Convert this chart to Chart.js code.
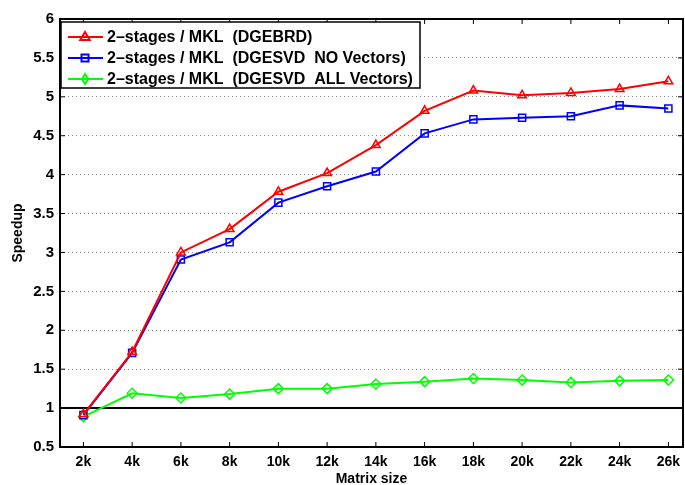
<!DOCTYPE html>
<html>
<head>
<meta charset="utf-8">
<script src="https://cdn.jsdelivr.net/npm/chart.js@4"></script>
<style>
  html, body { margin: 0; padding: 0; background: #fff; }
  #wrap { width: 685px; height: 485px; }
</style>
</head>
<body>
<div id="wrap"><canvas id="myChart" width="685" height="485"></canvas></div>
<script>
// matrix sizes in thousands
const sizes = [2, 4, 6, 8, 10, 12, 14, 16, 18, 20, 22, 24, 26];
const gebrd = [0.92, 1.72, 3.00, 3.30, 3.78, 4.02, 4.38, 4.82, 5.08, 5.02, 5.05, 5.10, 5.20];
const noVectors = [0.91, 1.71, 2.91, 3.13, 3.64, 3.85, 4.04, 4.53, 4.71, 4.73, 4.75, 4.89, 4.85];
const allVectors = [0.89, 1.19, 1.13, 1.18, 1.25, 1.25, 1.31, 1.34, 1.38, 1.36, 1.33, 1.35, 1.36];
const yTicks = [0.5, 1, 1.5, 2, 2.5, 3, 3.5, 4, 4.5, 5, 5.5, 6];
const legendLabels = [
  "2\u2013stages / MKL  (DGEBRD)",
  "2\u2013stages / MKL  (DGESVD  NO Vectors)",
  "2\u2013stages / MKL  (DGESVD  ALL Vectors)",
];
const colors = ["#ff0000", "#0000ff", "#00ff00"];
const markers = ["triangle", "rect", "rectRot"];

const FONT = "Liberation Sans, Arial, sans-serif";

function pts(vals) {
  return vals.map((v, i) => ({ x: sizes[i], y: v }));
}

function drawMarker(ctx, style, x, y, r) {
  ctx.beginPath();
  if (style === "triangle") {
    ctx.moveTo(x, y - r);
    ctx.lineTo(x + r * 0.95, y + r * 0.6);
    ctx.lineTo(x - r * 0.95, y + r * 0.6);
    ctx.closePath();
  } else if (style === "rect") {
    ctx.rect(x - r * 0.7, y - r * 0.7, r * 1.4, r * 1.4);
  } else {
    ctx.moveTo(x, y - r);
    ctx.lineTo(x + r * 0.6, y);
    ctx.lineTo(x, y + r);
    ctx.lineTo(x - r * 0.6, y);
    ctx.closePath();
  }
  ctx.stroke();
}

// matlab-ish frame, reference line at 1, inside ticks, legend box
const decor = {
  id: "decor",
  beforeDatasetsDraw(chart) {
    const ctx = chart.ctx;
    const a = chart.chartArea;
    const ys = chart.scales.y;
    const xs = chart.scales.x;
    ctx.save();
    // line at speedup 1
    ctx.strokeStyle = "#000";
    ctx.lineWidth = 2;
    const y1 = ys.getPixelForValue(1);
    ctx.beginPath();
    ctx.moveTo(a.left, y1);
    ctx.lineTo(a.right, y1);
    ctx.stroke();
    // inside ticks
    ctx.lineWidth = 1;
    ctx.beginPath();
    sizes.forEach((s) => {
      const px = xs.getPixelForValue(s);
      ctx.moveTo(px, a.bottom);
      ctx.lineTo(px, a.bottom - 5);
      ctx.moveTo(px, a.top);
      ctx.lineTo(px, a.top + 5);
    });
    yTicks.forEach((t) => {
      const py = ys.getPixelForValue(t);
      ctx.moveTo(a.left, py);
      ctx.lineTo(a.left + 5, py);
      ctx.moveTo(a.right, py);
      ctx.lineTo(a.right - 5, py);
    });
    ctx.stroke();
    ctx.restore();
  },
  afterDraw(chart) {
    const ctx = chart.ctx;
    const a = chart.chartArea;
    ctx.save();
    // frame
    ctx.strokeStyle = "#000";
    ctx.lineWidth = 2;
    ctx.strokeRect(a.left, a.top, a.right - a.left, a.bottom - a.top);
    // legend
    const bx = a.left + 1, by = a.top + 3, bw = 359, bh = 66;
    ctx.fillStyle = "#fff";
    ctx.fillRect(bx, by, bw, bh);
    ctx.lineWidth = 1.5;
    ctx.strokeRect(bx, by, bw, bh);
    ctx.font = "bold 16px " + FONT;
    ctx.textBaseline = "middle";
    legendLabels.forEach((lab, i) => {
      const ry = by + 15 + i * 21;
      ctx.strokeStyle = colors[i];
      ctx.lineWidth = 2;
      ctx.beginPath();
      ctx.moveTo(bx + 7, ry);
      ctx.lineTo(bx + 42, ry);
      ctx.stroke();
      drawMarker(ctx, markers[i], bx + 24, ry, 5);
      ctx.fillStyle = "#000";
      ctx.fillText(lab, bx + 46, ry + 1);
    });
    ctx.restore();
  },
};

const ctx1 = document.getElementById("myChart");

const chart1 = new Chart(ctx1, {
  type: "line",
  data: {
    datasets: [
      { label: legendLabels[0], data: pts(gebrd), borderColor: colors[0], pointStyle: markers[0] },
      { label: legendLabels[1], data: pts(noVectors), borderColor: colors[1], pointStyle: markers[1] },
      { label: legendLabels[2], data: pts(allVectors), borderColor: colors[2], pointStyle: markers[2] },
    ].map((d) => Object.assign(d, {
      borderWidth: 2,
      pointRadius: 5,
      pointBorderWidth: 1.5,
      pointBackgroundColor: "rgba(0,0,0,0)",
      pointBorderColor: d.borderColor,
      tension: 0,
    })),
  },
  options: {
    responsive: false,
    animation: false,
    layout: { autoPadding: false, padding: { top: 19, right: 2, left: 10, bottom: 0 } },
    plugins: {
      legend: { display: false },
      tooltip: { enabled: false },
    },
    scales: {
      x: {
        type: "linear",
        min: 1.04,
        max: 26.6,
        afterBuildTicks(scale) {
          scale.ticks = sizes.map((v) => ({ value: v }));
        },
        afterFit(scale) {
          scale.height = 38;
          scale.paddingRight = 0;
        },
        grid: { display: false, drawTicks: false },
        border: { display: false },
        ticks: {
          color: "#000",
          padding: 7,
          maxRotation: 0,
          autoSkip: false,
          font: { family: FONT, size: 14, weight: "bold" },
          callback: (v) => v + "k",
        },
        title: {
          display: true,
          text: "Matrix size",
          color: "#000",
          padding: { top: 0, bottom: -3 },
          font: { family: FONT, size: 14, weight: "bold" },
        },
      },
      y: {
        min: 0.5,
        max: 6,
        afterBuildTicks(scale) {
          scale.ticks = yTicks.map((v) => ({ value: v }));
        },
        afterFit(scale) {
          scale.width = 50;
        },
        grid: {
          color: "#888",
          lineWidth: 1,
          drawTicks: false,
        },
        border: { display: false, dash: [1, 3] },
        ticks: {
          color: "#000",
          padding: 6,
          font: { family: FONT, size: 15, weight: "bold" },
          callback: (v) => String(v),
        },
        title: {
          display: true,
          text: "Speedup",
          color: "#000",
          padding: { top: 0, bottom: 0 },
          font: { family: FONT, size: 14, weight: "bold" },
        },
      },
    },
  },
  plugins: [decor],
});
</script>
</body>
</html>
